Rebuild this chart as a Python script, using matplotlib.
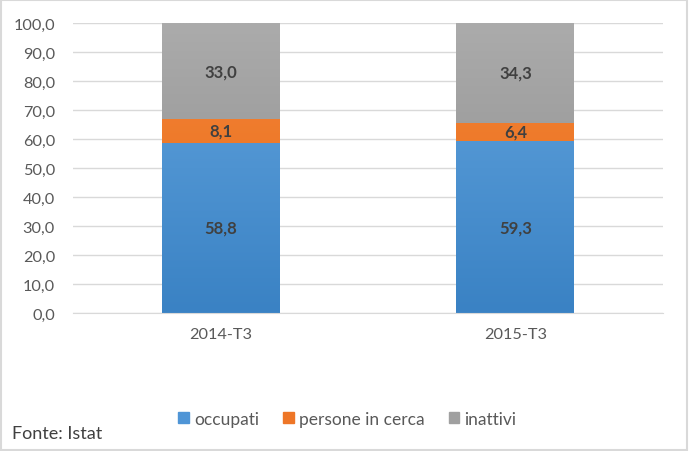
import numpy as np
import matplotlib.pyplot as plt
from matplotlib.colors import LinearSegmentedColormap

plt.rcParams['font.family'] = ['Lato', 'DejaVu Sans']

periods = ['2014-T3', '2015-T3']
occupati = [58.8, 59.3]
in_cerca = [8.1, 6.4]
inattivi = [33.0, 34.3]
series = [('occupati', occupati), ('persone in cerca', in_cerca), ('inattivi', inattivi)]
# (top colour, bottom colour) for the gradient fill
grad = {'occupati': ('#62a4de', '#3a82c4'),
        'persone in cerca': ('#f5843a', '#e46c14'),
        'inattivi': ('#ababab', '#8a8a8a')}
legend_col = {'occupati': '#4f95d6', 'persone in cerca': '#ee7627', 'inattivi': '#a0a0a0'}

fig = plt.figure(figsize=(6.89, 4.52), dpi=100)
ax = fig.add_axes([0.106, 0.305, 0.856, 0.6416])

x = np.arange(len(periods))
w = 0.40
bottom = np.zeros(len(periods))
for name, vals in series:
    bars = ax.bar(x, vals, w, bottom=bottom, color='none', edgecolor='none', zorder=3)
    cmap = LinearSegmentedColormap.from_list(name, [grad[name][1], grad[name][0]])
    for b, v, b0 in zip(bars, vals, bottom):
        im = ax.imshow(np.linspace(0, 1, 100).reshape(-1, 1), cmap=cmap, aspect='auto',
                       origin='lower', extent=[b.get_x(), b.get_x() + w, 0, 100], zorder=2)
        im.set_clip_path(b)
        ax.text(b.get_x() + w / 2, b0 + v / 2, f'{v:.1f}'.replace('.', ','), ha='center',
                va='center', fontsize=12, fontweight='bold', color='#404040', zorder=4)
    bottom = bottom + np.array(vals)

ax.set_xlim(-0.5, 1.5)
ax.set_ylim(0, 100)
ax.set_xticks(x)
ax.set_xticklabels(periods)
ax.set_yticks(np.arange(0, 101, 10))
ax.set_yticklabels([f'{v:.1f}'.replace('.', ',') for v in np.arange(0, 101, 10)])
ax.tick_params(length=0, labelsize=11.7, labelcolor='#595959')
ax.tick_params(axis='x', pad=10)
ax.tick_params(axis='y', pad=13)
ax.grid(axis='y', color='#d9d9d9', linewidth=1, zorder=0)
for s in ['top', 'right', 'left']:
    ax.spines[s].set_visible(False)
ax.spines['bottom'].set_color('#d9d9d9')

handles = [plt.Rectangle((0, 0), 1, 1, color=legend_col[n]) for n, _ in series]
fig.legend(handles, [n for n, _ in series], loc='center', bbox_to_anchor=(0.504, 0.071),
           ncol=3, frameon=False, fontsize=12.5, handlelength=0.6, handleheight=0.6,
           handletextpad=0.3, columnspacing=1.4, labelcolor='#595959')
fig.text(0.017, 0.04, 'Fonte: Istat', fontsize=13, color='#404040', va='center')

fig.patches.append(plt.Rectangle((0.002, 0.003), 0.995, 0.994, transform=fig.transFigure,
                                 fill=False, edgecolor='#d9d9d9', linewidth=1.5))
fig.savefig('out.png', dpi=100, facecolor='white')
